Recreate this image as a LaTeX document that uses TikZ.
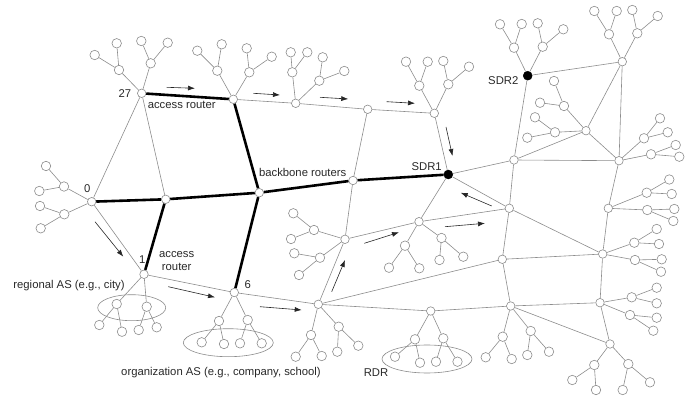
\documentclass[tikz,border=0pt]{standalone}
\usepackage{fontspec}
\setmainfont{Liberation Sans}
\usetikzlibrary{arrows.meta}
\definecolor{edgec}{RGB}{140,140,140}
\definecolor{txtc}{RGB}{40,40,40}
\tikzset{
  nd/.style={circle,draw=edgec,fill=white,line width=0.6pt,inner sep=0pt,minimum size=9.5pt},
  rt/.style={circle,draw=edgec,fill=white,line width=0.6pt,inner sep=0pt,minimum size=8.5pt},
  sdr/.style={circle,fill=black,draw=black,inner sep=0pt,minimum size=9pt},
  ln/.style={draw=edgec,line width=0.6pt},
  bbl/.style={draw=black,line width=2.6pt},
  arr/.style={draw=black!85,line width=0.6pt,-{Latex[length=7pt,width=5pt]}},
  lbl/.style={text=txtc,font=\fontsize{11.3}{13}\selectfont,inner sep=0pt,align=center},
  ell/.style={draw=edgec,line width=0.6pt}
}
\begin{document}
\begin{tikzpicture}[x=1pt,y=-1pt]
\useasboundingbox (0,0) rectangle (697,401);
% ellipses
\draw[ell] (131.7,307.7) ellipse [x radius=34, y radius=13];
\draw[ell] (228.3,342.7) ellipse [x radius=45, y radius=14];
\draw[ell] (427,359) ellipse [x radius=45, y radius=14];
% nodes
\foreach \n/\x/\y in {n27/141.7/93.3, n0/91.7/201.7, bb1/165.7/199.3, n1/144/274.3, T/233.3/99.3, bb2/259.3/192.7, n6/234.3/292.5, P/295.7/103.3, Q/367.7/109.3, bb3/353/180.5, S/434.3/113.3, X/318.3/304.3, Y/345/239.3, Z/419/221.7, R/430.7/311, E/622.3/61.7, F/514/160, G/586/130.7, H/619/160.7, U/509.3/208.3, I/608.3/208.3, W/502.3/259.3, J/602.7/254, V/510.7/306, K/600/302.7, L/610/344}
  \node[rt] (\n) at (\x,\y) {};
\foreach \n/\x/\y in {a27a/119/70, a27b/150.7/63.3, l1/94.7/55, l2/116.7/43.3, l3/141.3/41, l4/167.7/42.7,
  a0a/64/186.5, a0b/64.3/214.3, l5/46/166, l6/39.3/191, l7/40/206, l8/40.7/228.3,
  a1a/116.7/304, a1b/146.7/306.7, l9/99.3/325, l10/122/331.7, l11/138.7/330, l12/156.7/327.3,
  aTa/217.3/70.7, aTb/249.3/72.3, l13/197.3/50.7, l14/221.7/44.3, l15/246.7/48.3, l16/271.7/56.7,
  a6a/219/321, a6b/247.7/320, l17/201.7/342.3, l18/224/344, l19/240/343.3, l20/261.7/343.3,
  aPa/292.3/72.3, aPb/319.3/80.7, l21/290.7/52.3, l22/307.3/52.3, l23/322.7/57.3, l24/344.3/71,
  aSa/419.3/85.7, aSb/448.3/84.3, l25/406/61.7, l26/427.7/61.7, l27/443.3/61, l28/469/66.7,
  aXa/311/335, aXb/338.7/326.7, l29/295.7/356.7, l30/321.7/356, l31/337.3/351.7, l32/358.3/345.7,
  aYa/314/230, aYb/320/257.7, l33/293.3/213.3, l34/291/239, l35/294.3/253.3, l36/299/275,
  aZa/405/245.7, aZb/441.5/238, l37/389/267.7, l38/419.3/268.3, l39/439.5/260, l40/463.3/256.7,
  aRa/415/339.3, aRb/443.3/338.3, l41/395/356.7, l42/420/362.7, l43/436/361.7, l44/457.5/361.7,
  aS2a/514/47.7, aS2b/542.7/46.7, l45/500/24.3, l46/521.7/24, l47/537.7/23.3, l48/563.3/29.3,
  aEa/609/34.3, aEb/637.3/33.3, l49/594.3/11, l50/616.7/11, l51/632.3/10, l52/657.7/16,
  aGa/564/106, aGb/555/132.3, l53/554/81, l54/540/102.7, l55/535/117.3, l56/527.3/137.7,
  aHa/644/138.3, aHb/651/154.3, l57/660/118.3, l58/667.7/132.3, l59/675.7/145, l60/679.3/156.7,
  aIa/646.7/192.7, aIb/647.3/210, l61/669.3/179.5, l62/671.7/194, l63/674.3/209, l64/673.3/221,
  aJa/634.3/242.7, aJb/635/260, l65/656.7/229, l66/659/244, l67/661.7/259.3, l68/661/271.7,
  aVa/502.7/336.7, aVb/530.7/331, l69/485.7/357.3, l70/511.7/359, l71/527.3/355, l72/549/351.7,
  aKa/631.7/297.3, aKb/630/315, l73/656.7/287.7, l74/656.7/303.3, l75/656.7/317.7, l76/653.3/330.7,
  aLa/594.3/365, aLb/628.3/364, l77/572.3/380, l78/596/390, l79/622.7/390, l80/650/382.3}
  \node[nd] (\n) at (\x,\y) {};
\node[sdr] (SDR1) at (448.3,174.5) {};
\node[sdr] (SDR2) at (527.7,75.7) {};
% thin edges
\foreach \a/\b in {n27/a27a, n27/a27b, a27a/l1, a27a/l2, a27b/l3, a27b/l4, n27/n0, n27/bb1,
  n0/a0a, n0/a0b, a0a/l5, a0a/l6, a0b/l7, a0b/l8, n0/n1,
  n1/a1a, n1/a1b, a1a/l9, a1a/l10, a1b/l11, a1b/l12, n1/n6,
  T/aTa, T/aTb, aTa/l13, aTa/l14, aTb/l15, aTb/l16, T/P,
  n6/a6a, n6/a6b, a6a/l17, a6a/l18, a6b/l19, a6b/l20, n6/X,
  P/aPa, P/aPb, aPa/l21, aPa/l22, aPb/l23, aPb/l24, P/Q,
  Q/S, Q/bb3, bb3/Y,
  S/aSa, S/aSb, aSa/l25, aSa/l26, aSb/l27, aSb/l28, S/SDR1,
  X/aXa, X/aXb, aXa/l29, aXa/l30, aXb/l31, aXb/l32, X/Y, X/W, X/R, R/V,
  Y/aYa, Y/aYb, aYa/l33, aYa/l34, aYb/l35, aYb/l36, Y/Z,
  Z/aZa, Z/aZb, aZa/l37, aZa/l38, aZb/l39, aZb/l40, Z/SDR1, Z/U,
  R/aRa, R/aRb, aRa/l41, aRa/l42, aRb/l43, aRb/l44,
  SDR1/F, SDR1/U,
  SDR2/aS2a, SDR2/aS2b, aS2a/l45, aS2a/l46, aS2b/l47, aS2b/l48, SDR2/E, SDR2/F,
  E/aEa, E/aEb, aEa/l49, aEa/l50, aEb/l51, aEb/l52, E/G, E/H,
  F/G, F/H, F/U, G/H,
  G/aGa, G/aGb, aGa/l53, aGa/l54, aGb/l55, aGb/l56,
  H/aHa, H/aHb, aHa/l57, aHa/l58, aHb/l59, aHb/l60, H/I,
  U/W, U/J,
  I/aIa, I/aIb, aIa/l61, aIa/l62, aIb/l63, aIb/l64, I/J,
  W/J, W/V,
  J/aJa, J/aJb, aJa/l65, aJa/l66, aJb/l67, aJb/l68, J/K,
  V/aVa, V/aVb, aVa/l69, aVa/l70, aVb/l71, aVb/l72, V/K, V/L,
  K/aKa, K/aKb, aKa/l73, aKa/l74, aKb/l75, aKb/l76, K/L,
  L/aLa, L/aLb, aLa/l77, aLa/l78, aLb/l79, aLb/l80}
  \draw[ln] (\a) -- (\b);
% backbone
\foreach \a/\b in {n27/T, n0/bb1, bb1/bb2, bb1/n1, T/bb2, bb2/n6, bb2/bb3, bb3/SDR1}
  \draw[bbl] (\a) -- (\b);
% flow arrows
\draw[arr] (166.7,87.3) -- (195,88.3);
\draw[arr] (253.3,93.3) -- (280,95);
\draw[arr] (320,97.3) -- (348.3,99);
\draw[arr] (386.7,101.7) -- (415,103.3);
\draw[arr] (446,127) -- (452.5,156);
\draw[arr] (95,221.7) -- (123.3,256.7);
\draw[arr] (168.3,286.7) -- (215,297.3);
\draw[arr] (260,306.7) -- (301.7,310);
\draw[arr] (331.7,291.7) -- (345,260);
\draw[arr] (364.3,243.3) -- (399,232.3);
\draw[arr] (445,226.7) -- (485,223.3);
\draw[arr] (491.7,206) -- (460.7,192.7);
% labels
\node[lbl] (t27) at (125,94) {27};
\node[lbl] (t0) at (87.3,188.3) {0};
\node[lbl] (t1) at (142.3,260) {1};
\node[lbl] (t6) at (247.7,284.3) {6};
\node[lbl] (tar1) at (181.7,105) {access router};
\node[lbl] (tar2) at (176.7,261) {access\\router};
\node[lbl] (tbb) at (302.7,172.7) {backbone routers};
\node[lbl] (ts1) at (426.7,166.7) {SDR1};
\node[lbl] (ts2) at (503.3,80.7) {SDR2};
\node[lbl] (treg) at (69,286) {regional AS (e.g., city)};
\node[lbl] (torg) at (221,372.3) {organization AS (e.g., company, school)};
\node[lbl] (trdr) at (376,372.3) {RDR};
\end{tikzpicture}
\end{document}
